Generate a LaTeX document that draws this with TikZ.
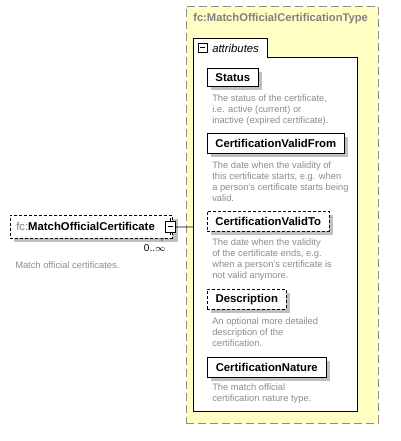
\documentclass[tikz,border=0pt]{standalone}
\usepackage{fontspec}
\setmainfont{Liberation Sans}
\usetikzlibrary{shadows}
\definecolor{yel}{HTML}{FFFFC4}
\definecolor{bord}{HTML}{8C8C8C}
\definecolor{desccol}{HTML}{8C8C8C}
\definecolor{shad}{HTML}{C0C0C0}
\definecolor{titlecol}{HTML}{808080}
\begin{document}
\begin{tikzpicture}[x=0.75pt,y=-0.75pt,
  elem/.style={draw=black, fill=white, inner sep=0pt, anchor=north west,
    font=\fontsize{8.5pt}{10pt}\selectfont\bfseries,
    drop shadow={shadow xshift=3pt, shadow yshift=-3pt, fill=shad, opacity=1}},
  optelem/.style={elem, dash pattern=on 2.25pt off 1.5pt},
  desctext/.style={anchor=north west, align=left, inner sep=0pt, text=desccol,
    font=\fontsize{7pt}{8.25pt}\selectfont},
  iconbox/.style={draw=black, fill=white, line width=0.9pt},
]
\useasboundingbox (0,0) rectangle (400,441);
% outer type box
\node[draw=bord, fill=yel, dash pattern=on 6pt off 3pt, line width=0.6pt,
  minimum width=144pt, minimum height=312.75pt, anchor=north west, inner sep=0pt]
  (type) at (186,6) {};
\node[anchor=west, inner sep=0pt, text=titlecol, font=\fontsize{8.4pt}{10pt}\selectfont\bfseries]
  (title) at (193,19) {fc:MatchOfficialCertificationType};
% attributes group
\draw[fill=white, line width=0.6pt] (193,411) -- (193,38) -- (267,38) -- (267,57) -- (357,57) -- (357,411) -- cycle;
\coordinate (grpwest) at (193,227);
\node[iconbox, minimum width=6.75pt, minimum height=6.75pt, inner sep=0pt, anchor=north west] (grpicon) at (198,43) {};
\draw[line width=0.8pt] (200,47.5) -- (205,47.5);
\node[anchor=west, inner sep=0pt, font=\fontsize{8.5pt}{10pt}\selectfont\itshape] (grplabel) at (212,48) {attributes};
% attributes
\node[elem, minimum width=38.25pt, minimum height=13.5pt] (status) at (207,68) {Status};
\node[desctext] (statusd) at (212,94.5) {The status of the certificate,\\i.e. active (current) or\\inactive (expired certificate).};
\node[elem, minimum width=102.75pt, minimum height=15pt] (from) at (207,133) {CertificationValidFrom};
\node[desctext] (fromd) at (212,161.5) {The date when the validity of\\this certificate starts, e.g. when\\a person's certificate starts being\\valid.};
\node[optelem, minimum width=91.5pt, minimum height=15pt] (to) at (207,211) {CertificationValidTo};
\node[desctext] (tod) at (212,238.5) {The date when the validity\\of the certificate ends, e.g.\\when a person's certificate is\\not valid anymore.};
\node[optelem, minimum width=59.25pt, minimum height=15pt] (descr) at (207,289) {Description};
\node[desctext] (descrd) at (212,317.5) {An optional more detailed\\description of the\\certification.};
\node[elem, minimum width=89.25pt, minimum height=15pt] (nature) at (207,357) {CertificationNature};
\node[desctext] (natured) at (212,383.5) {The match official\\certification nature type.};
% left element
\node[optelem, minimum width=121.5pt, minimum height=17.25pt, drop shadow={shadow xshift=4.5pt, shadow yshift=-3pt, fill=shad, opacity=1}]
  (main) at (10,215) {};
\node[anchor=west, inner sep=0pt, font=\fontsize{8.5pt}{10pt}\selectfont] (mainlabel) at (16,226.5)
  {\textcolor{titlecol}{fc:}\textbf{MatchOfficialCertificate}};
\draw[line width=0.6pt] (170,218) -- (170,235);
\node[iconbox, minimum width=7.5pt, minimum height=8.25pt, inner sep=0pt, anchor=north west] (icon) at (165,221) {};
\draw[line width=0.8pt] (167.5,226.5) -- (172.5,226.5);
\draw[gray, line width=0.5pt] (160,238) -- (162,241) -- (164,238);
\node[anchor=east, inner sep=0pt, font=\fontsize{7.5pt}{8pt}\selectfont] (mult) at (166,248.5) {0..$\infty$};
\node[anchor=west, inner sep=0pt, text=desccol, font=\fontsize{7pt}{8pt}\selectfont] (maind) at (15,265) {Match official certificates.};
\draw[line width=0.6pt] (icon.east) -- (grpwest);
\end{tikzpicture}
\end{document}
